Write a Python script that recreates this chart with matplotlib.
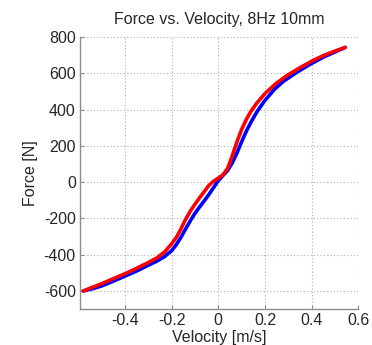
import numpy as np
import matplotlib.pyplot as plt

plt.rcParams['font.family'] = ['Liberation Sans', 'DejaVu Sans']
plt.rcParams['axes.unicode_minus'] = False

# velocity [m/s] / force [N]
vel_blue = [-0.579, -0.54, -0.5, -0.45, -0.4, -0.35, -0.3, -0.264, -0.23, -0.2,
            -0.18, -0.16, -0.14, -0.116, -0.1, -0.086, -0.06, -0.04, -0.02, 0.0,
            0.02, 0.04, 0.06, 0.08, 0.1, 0.12, 0.143, 0.165, 0.186, 0.2,
            0.24, 0.28, 0.34, 0.4, 0.45, 0.5, 0.544]
force_blue = [-600, -588, -572, -546, -518, -490, -458, -436, -410, -378,
              -345, -304, -258, -205, -172, -147, -103, -68, -30, 8,
              36, 64, 106, 160, 222, 280, 337, 386, 425, 450,
              510, 556, 608, 654, 688, 717, 742]

vel_red = [-0.579, -0.54, -0.5, -0.45, -0.4, -0.35, -0.3, -0.264, -0.23, -0.2,
           -0.18, -0.16, -0.143, -0.12, -0.1, -0.08, -0.06, -0.04, -0.02, 0.0,
           0.02, 0.04, 0.06, 0.08, 0.1, 0.12, 0.14, 0.165, 0.2, 0.25,
           0.3, 0.35, 0.4, 0.45, 0.5, 0.544]
force_red = [-600, -580, -560, -532, -505, -475, -443, -418, -385, -340,
             -305, -258, -212, -160, -122, -86, -52, -18, 5, 22,
             40, 76, 145, 222, 290, 345, 390, 435, 488, 546,
             592, 630, 666, 697, 722, 742]

xticks = [-0.4, -0.2, 0, 0.2, 0.4, 0.6]
yticks = [-600, -400, -200, 0, 200, 400, 600, 800]

fig = plt.figure(figsize=(3.72, 3.45), dpi=100)
ax = fig.add_axes([0.215, 0.104, 0.748, 0.789])

ax.plot(vel_blue, force_blue, color='#0000ff', lw=2.6, solid_capstyle='round',
        solid_joinstyle='round')
ax.plot(vel_red, force_red, color='#ff0000', lw=2.6, solid_capstyle='round',
        solid_joinstyle='round')

ax.set_xlim(-0.593, 0.6)
ax.set_ylim(-700, 800)
ax.set_xticks(xticks)
ax.set_xticklabels(['-0.4', '-0.2', '0', '0.2', '0.4', '0.6'])
ax.set_yticks(yticks)

ax.grid(True, color='#b0b0b0', linestyle=(0, (1, 2)), linewidth=0.8)
for s in ['top', 'right']:
    ax.spines[s].set_visible(False)
for s in ['left', 'bottom']:
    ax.spines[s].set_color('#8c8c8c')
    ax.spines[s].set_linewidth(1.0)
ax.tick_params(direction='in', length=3, color='#8c8c8c', labelsize=11.5,
               labelcolor='#262626', pad=3)

ax.set_title('Force vs. Velocity, 8Hz 10mm', fontsize=11.5, color='#262626', pad=9)
ax.set_xlabel('Velocity [m/s]', fontsize=11.5, color='#262626', labelpad=1)
ax.set_ylabel('Force [N]', fontsize=11.5, color='#262626', labelpad=4)

fig.savefig('out.png', dpi=100)
